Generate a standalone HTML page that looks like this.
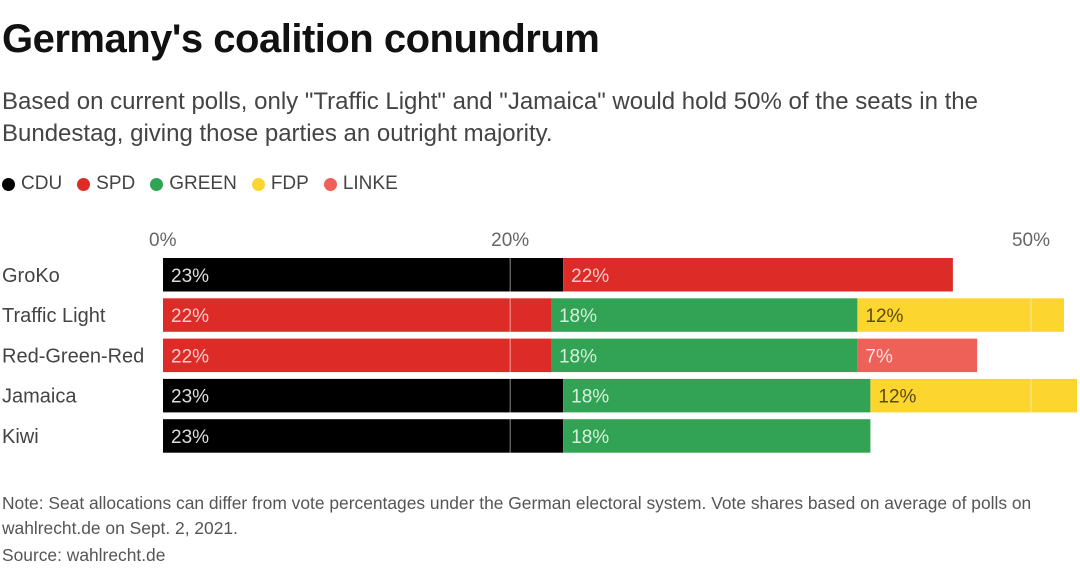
<!DOCTYPE html>
<html><head><meta charset="utf-8">
<style>
body{margin:0;width:1080px;height:571px;background:#fff;font-family:"Liberation Sans",sans-serif;overflow:hidden;position:relative;color:#222}
.t{position:absolute;left:2px;top:17px;font-size:40px;font-weight:bold;letter-spacing:-0.5px;color:#111}
.s{position:absolute;left:2px;top:86px;font-size:24px;line-height:32px;color:#444;width:1020px}
.lg{position:absolute;left:2px;top:173px;font-size:19px;color:#444;display:flex;gap:15px}
.lg span{display:flex;align-items:center;gap:6px}
.lg i{display:inline-block;width:13px;height:13px;border-radius:50%}
.n{position:absolute;left:2px;top:491px;font-size:17.4px;line-height:25px;color:#555;width:1078px;white-space:nowrap}
.src{position:absolute;left:2px;top:545px;font-size:17.4px;color:#555}
</style></head><body>
<div class="t">Germany's coalition conundrum</div>
<div class="s">Based on current polls, only "Traffic Light" and "Jamaica" would hold 50% of the seats in the Bundestag, giving those parties an outright majority.</div>
<div class="lg">
<span><i style="background:#000"></i>CDU</span>
<span><i style="background:#dd2c27"></i>SPD</span>
<span><i style="background:#32a354"></i>GREEN</span>
<span><i style="background:#fdd52f"></i>FDP</span>
<span><i style="background:#ed6159"></i>LINKE</span>
</div>
<svg id="chart" width="1080" height="571" style="position:absolute;left:0;top:0"></svg>
<div class="n">Note: Seat allocations can differ from vote percentages under the German electoral system. Vote shares based on average of polls on<br>wahlrecht.de on Sept. 2, 2021.</div>
<div class="src">Source: wahlrecht.de</div>
<script>
const categories=["GroKo","Traffic Light","Red-Green-Red","Jamaica","Kiwi"];
const parties=["CDU","SPD","GREEN","FDP","LINKE"];
const segParties=[["CDU","SPD"],["SPD","GREEN","FDP"],["SPD","GREEN","LINKE"],["CDU","GREEN","FDP"],["CDU","GREEN"]];
const segValues=[[23.05,22.45],[22.35,17.65,11.9],[22.35,17.65,6.9],[23.05,17.7,11.9],[23.05,17.7]];
const segLabels=[["23%","22%"],["22%","18%","12%"],["22%","18%","7%"],["23%","18%","12%"],["23%","18%"]];
const ticks=[0,20,50];
const tickLabels=["0%","20%","50%"];
const colors={CDU:"#000",SPD:"#dd2c27",GREEN:"#32a354",FDP:"#fdd52f",LINKE:"#ed6159"};
const textCol={CDU:"#ddd",SPD:"#f4d0cf",GREEN:"#d8eedd",FDP:"#5a4a10",LINKE:"#fbe3e1"};
const NS="http://www.w3.org/2000/svg";
const svg=document.getElementById('chart');
const x=v=>163+v*17.36;
const y=i=>258+i*40.3;
const bh=33.5;
function mk(t,a){const e=document.createElementNS(NS,t);for(const k in a)e.setAttribute(k,a[k]);svg.appendChild(e);return e;}
ticks.forEach((t,i)=>{
  const e=mk('text',{x:x(t),y:246,'text-anchor':i==0?'start':'middle','font-size':19,fill:'#666','font-family':'Liberation Sans'});
  if(i==0)e.setAttribute('x',x(t)-14);
  e.textContent=tickLabels[i];
  
  
});
categories.forEach((c,i)=>{
  const lab=mk('text',{x:2,y:y(i)+bh/2+7,'font-size':20,fill:'#444','font-family':'Liberation Sans'});
  lab.textContent=c;
  
  
  let acc=0;
  segValues[i].forEach((v,j)=>{
    const p=segParties[i][j];
    const r=mk('rect',{x:x(acc),y:y(i),width:x(acc+v)-x(acc),height:bh,fill:colors[p]});
    
    
    const t=mk('text',{x:x(acc)+8,y:y(i)+bh/2+7,'font-size':19,fill:textCol[p],'font-family':'Liberation Sans'});
    t.textContent=segLabels[i][j];
    
    
    acc+=v;
  });
});
ticks.slice(1).forEach(t=>{
  const l=mk('line',{x1:x(t),x2:x(t),y1:y(0),y2:y(4)+bh,stroke:'#fff','stroke-opacity':0.45,'stroke-width':1.2});
  
  
});
</script>
</body></html>
